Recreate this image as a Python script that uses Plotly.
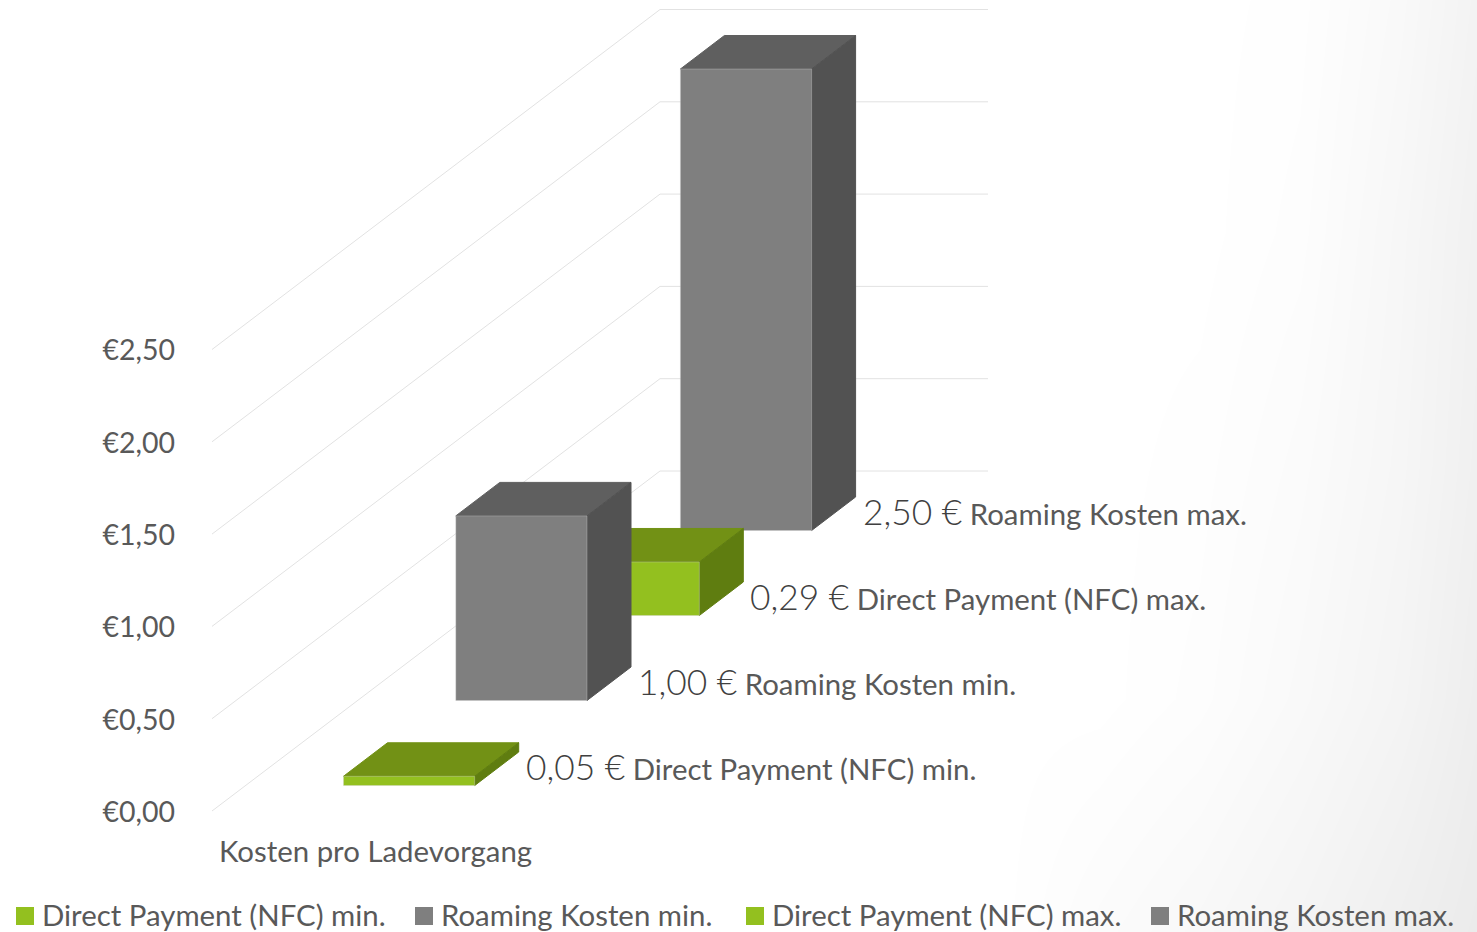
import plotly.graph_objects as go

# ---------- data ----------
series_names = ["Direct Payment (NFC) min.", "Roaming Kosten min.",
                "Direct Payment (NFC) max.", "Roaming Kosten max."]
series_values = [0.05, 1.00, 0.29, 2.50]
value_labels = ["0,05 €", "1,00 €", "0,29 €", "2,50 €"]
axis_values = [0.0, 0.5, 1.0, 1.5, 2.0, 2.5]
axis_labels = ["€0,00", "€0,50", "€1,00", "€1,50", "€2,00", "€2,50"]
category_label = "Kosten pro Ladevorgang"

front_colors = ["#93C01F", "#7F7F7F", "#93C01F", "#7F7F7F"]
top_colors = ["#729115", "#5F5F5F", "#729115", "#5F5F5F"]
side_colors = ["#5F7D10", "#525252", "#5F7D10", "#525252"]
legend_x = [16, 415, 746, 1151]

# background shading (grey levels)
bg_x = [1000, 1100, 1200, 1300, 1400, 1477]
bg_y = [0, 233, 466, 699, 932]
bg_grey = [[255, 255, 255, 254, 249, 243],
           [255, 255, 255, 253, 247, 241],
           [255, 255, 254, 251, 246, 240],
           [255, 255, 253, 249, 244, 238],
           [255, 251, 248, 244, 239, 235]]

# ---------- projection ----------
W, H = 1477, 932
ZERO_PX = 811.0
PX_PER_EURO = 184.6
def py(px):
    return (ZERO_PX - px) / PX_PER_EURO

BAR_W = 131.2
BAR_X0 = 343.5
STEP_X = 112.3
BASE_PX0 = 785.5
STEP_Y = 85.0
DEPTH_X = 44.0
DEPTH_Y = 33.5 / PX_PER_EURO
TEXT = "#595959"
FONT = "Lato"

fig = go.Figure()

fig.add_trace(go.Heatmap(x=bg_x, y=[py(v) for v in bg_y], z=bg_grey, zsmooth="best",
                         zmin=0, zmax=255, showscale=False, hoverinfo="skip",
                         colorscale=[[0, "#000000"], [1, "#FFFFFF"]]))

# gridlines: wall and side floor
GRID_SPAN = 340.0 / PX_PER_EURO
for v in axis_values:
    fig.add_trace(go.Scatter(x=[212, 660, 988], y=[v, v + GRID_SPAN, v + GRID_SPAN], mode="lines",
                             line=dict(color="#E2E2E2", width=1), hoverinfo="skip", showlegend=False))

def poly(xs, ys, color, name, edge):
    fig.add_trace(go.Scatter(x=xs + xs[:1], y=ys + ys[:1], mode="lines", fill="toself", fillcolor=color,
                             line=dict(color=edge, width=1), name=name, hoverinfo="skip", showlegend=False))

for i in reversed(range(len(series_values))):
    v = series_values[i]
    x0 = BAR_X0 + STEP_X * i
    x1 = x0 + BAR_W
    y0 = py(BASE_PX0 - STEP_Y * i)
    y1 = y0 + v
    poly([x0, x1, x1 + DEPTH_X, x0 + DEPTH_X], [y1, y1, y1 + DEPTH_Y, y1 + DEPTH_Y],
         top_colors[i], series_names[i], top_colors[i])
    poly([x1, x1 + DEPTH_X, x1 + DEPTH_X, x1], [y0, y0 + DEPTH_Y, y1 + DEPTH_Y, y1],
         side_colors[i], series_names[i], side_colors[i])
    poly([x0, x1, x1, x0], [y0, y0, y1, y1], front_colors[i], series_names[i], "rgba(205,205,205,0.35)")
    fig.add_annotation(x=x1 + DEPTH_X + 5, y=y0 + 19 / PX_PER_EURO, xanchor="left", yanchor="middle",
                       showarrow=False, align="left",
                       text=f"<span style='font-size:35.3px;font-weight:300;fill:#404040'>{value_labels[i]}</span>"
                            f"<span style='font-size:29.4px'> {series_names[i]}</span>",
                       font=dict(family=FONT, color=TEXT, size=29.4))

# legend
for i, name in enumerate(series_names):
    fig.add_trace(go.Scatter(x=[legend_x[i] + 9], y=[py(916)], mode="markers", hoverinfo="skip", showlegend=False,
                             marker=dict(symbol="square", size=18, color=front_colors[i], line=dict(width=0))))
    fig.add_annotation(x=legend_x[i] + 23.5, y=py(914.5), xanchor="left", yanchor="middle", showarrow=False,
                       text=name, font=dict(family=FONT, color=TEXT, size=29.4))

fig.add_annotation(x=217, y=py(850.5), xanchor="left", yanchor="middle", showarrow=False,
                   text=category_label, font=dict(family=FONT, color=TEXT, size=29.4))

fig.update_layout(
    width=W, height=H, margin=dict(l=0, r=0, t=0, b=0),
    paper_bgcolor="#FFFFFF", plot_bgcolor="rgba(0,0,0,0)", showlegend=False,
    xaxis=dict(range=[0, W], visible=False, fixedrange=True),
    yaxis=dict(range=[py(H), py(0)], showgrid=False, zeroline=False, showline=False, ticks="",
               anchor="free", position=175 / W, tickmode="array", tickvals=axis_values, ticktext=axis_labels,
               tickfont=dict(family=FONT, color=TEXT, size=28.5), ticklabelshift=1,
               automargin=False, fixedrange=True),
)

fig.write_html("out.html", config=dict(displayModeBar=False),
               post_script="document.body.style.margin='0';document.body.style.overflow='hidden';")
